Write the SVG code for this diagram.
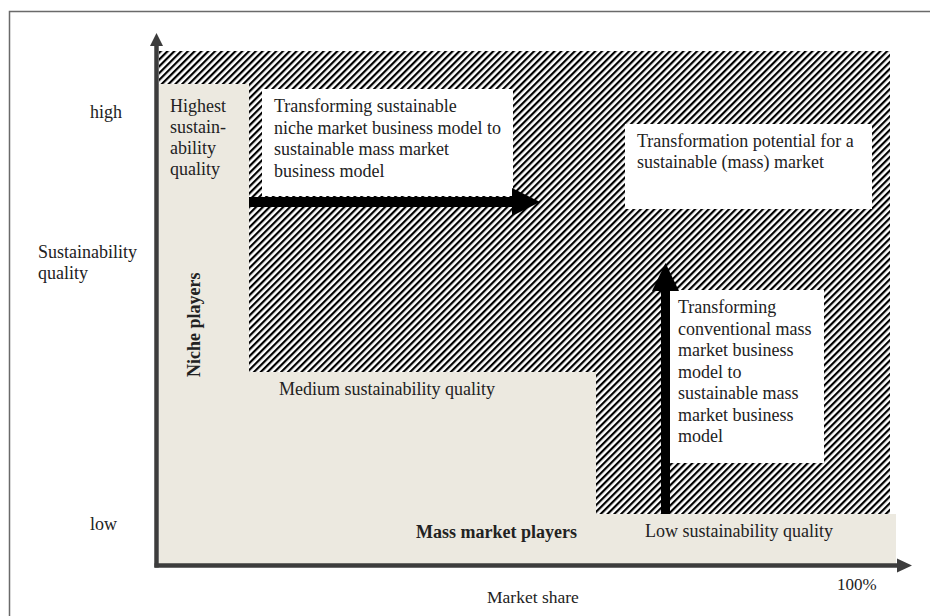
<svg xmlns="http://www.w3.org/2000/svg" width="930" height="616" viewBox="0 0 930 616">
<defs>
<pattern id="hatch" patternUnits="userSpaceOnUse" width="4.8" height="10" patternTransform="rotate(45)">
<rect x="0" y="0" width="4.8" height="10" fill="#ffffff"/>
<rect x="0" y="0" width="2.2" height="10" fill="#000000"/>
</pattern>
</defs>
<style>
text{font-family:"Liberation Serif","Times New Roman",serif;font-size:18px;fill:#222;}
.b{font-weight:bold;}
.box{fill:#ffffff;}
.axis{stroke:#3c3c3c;stroke-width:4.5;fill:none;}
.axhead{fill:#3c3c3c;}
.arr{fill:#000000;}
</style>
<rect x="0" y="0" width="930" height="616" fill="#ffffff"/>
<path d="M9.5,616 V11.5 H930" fill="none" stroke="#6a6a6a" stroke-width="1.5"/>

<g id="regions">
<polygon id="hatched" points="159,51 890,51 890,514 596,514 596,372 249,372 249,84 159,84" fill="url(#hatch)"/>
<polygon id="beige" points="159,84 249,84 249,372 596,372 596,514 896,514 896,565 159,565" fill="#ece9e0"/>
</g>

<g id="axes">
<line class="axis" x1="156.5" y1="44" x2="156.5" y2="567.5"/>
<polygon class="axhead" points="156.5,33 150,46 163,46"/>
<line class="axis" x1="154.5" y1="565.5" x2="899" y2="565.5"/>
<polygon class="axhead" points="912,565.5 897,558.5 897,572.5"/>
</g>

<g id="node-niche-high">
<text x="170" y="112">Highest</text>
<text x="170" y="133">sustain-</text>
<text x="170" y="154">ability</text>
<text x="170" y="175">quality</text>
</g>

<g id="node-niche-transform">
<rect class="box" x="262" y="89" width="251" height="107"/>
<text x="274" y="112">Transforming sustainable</text>
<text x="274" y="133.5">niche market business model to</text>
<text x="274" y="155">sustainable mass market</text>
<text x="274" y="176.5">business model</text>
</g>

<g id="node-potential">
<rect class="box" x="625" y="124" width="247" height="85"/>
<text x="637" y="147">Transformation potential for a</text>
<text x="637" y="168">sustainable (mass) market</text>
</g>

<g id="node-mass-transform">
<rect class="box" x="669" y="290" width="155" height="173"/>
<text x="678" y="313">Transforming</text>
<text x="678" y="334.5">conventional mass</text>
<text x="678" y="356">market business</text>
<text x="678" y="377.5">model to</text>
<text x="678" y="399">sustainable mass</text>
<text x="678" y="420.5">market business</text>
<text x="678" y="442">model</text>
</g>

<g id="connectors">
<rect class="arr" x="249" y="197" width="265" height="10"/>
<polygon class="arr" points="540,202 512,188 512,216"/>
<rect class="arr" x="661" y="289" width="9" height="225"/>
<polygon class="arr" points="665.5,263 652,291 679,291"/>
</g>

<g id="labels">
<text class="b" transform="translate(200,377) rotate(-90)">Niche players</text>
<text x="279" y="395">Medium sustainability quality</text>
<text class="b" x="416" y="538">Mass market players</text>
<text x="645" y="537">Low sustainability quality</text>
<text x="90" y="118">high</text>
<text x="38" y="258">Sustainability</text>
<text x="38" y="279">quality</text>
<text x="90" y="530">low</text>
<text x="487" y="603" style="font-size:17.5px">Market share</text>
<text x="837" y="590" style="font-size:17px">100%</text>
</g>
</svg>
